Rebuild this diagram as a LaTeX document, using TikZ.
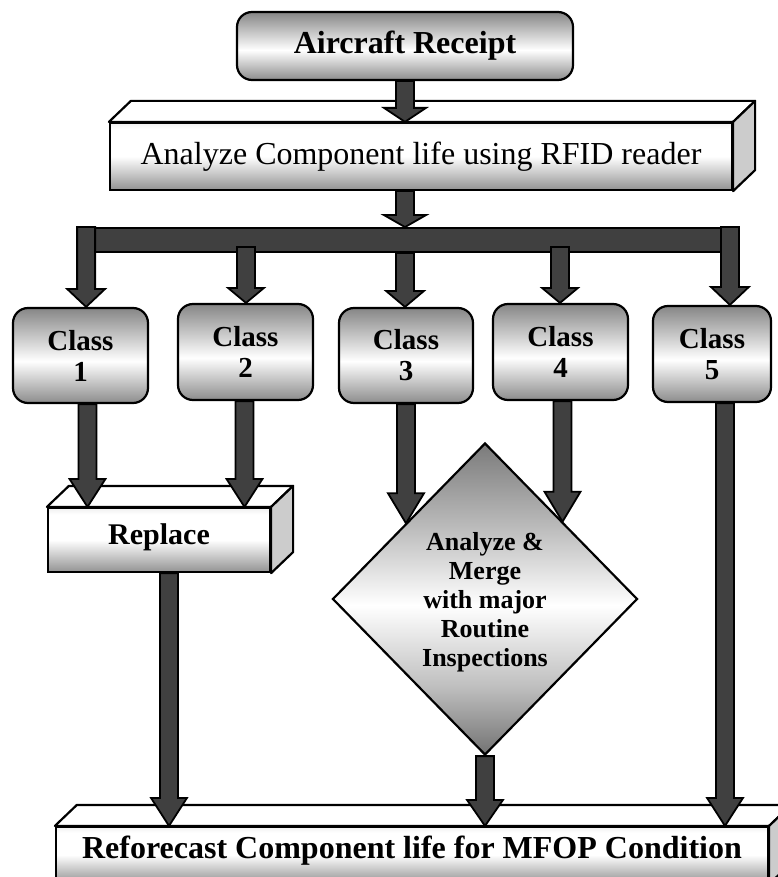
\documentclass[tikz,border=0pt]{standalone}
\usepackage{fontspec}
\setmainfont{Liberation Serif}
\usetikzlibrary{shapes.geometric,calc}

\pgfdeclareverticalshading{rsh}{100bp}{color(0bp)=(gray!90); color(25bp)=(gray!90); color(47bp)=(white); color(75bp)=(gray!95); color(100bp)=(gray!95)}
\pgfdeclareverticalshading{fsh}{100bp}{color(0bp)=(gray!85); color(25bp)=(gray!85); color(50bp)=(white); color(70bp)=(white); color(75bp)=(gray!12); color(100bp)=(gray!12)}
\pgfdeclareverticalshading{dsh}{100bp}{color(0bp)=(black!55); color(25bp)=(black!55); color(36bp)=(gray!50); color(49bp)=(white); color(62bp)=(gray!55); color(75bp)=(black!52); color(100bp)=(black!52)}

\tikzset{
  rbox/.style={draw=black, line width=2.2pt, rounded corners=15pt, shading=rsh, inner sep=0pt, align=center},
  fbox/.style={draw=black, line width=2.2pt, shading=fsh, inner sep=0pt, align=center},
  dbox/.style={draw=black, line width=2.2pt, shape=diamond, shading=dsh, inner sep=0pt},
  topface/.style={draw=black, line width=2.2pt, fill=white, line join=round},
  sideface/.style={draw=black, line width=2.2pt, fill=gray!40, line join=round},
  arrowbody/.style={draw=black, line width=1.8pt, fill=black!75, line join=miter},
  barbox/.style={draw=black, line width=1.8pt, fill=black!75, inner sep=0pt},
  bigbold/.style={font=\fontsize{32}{36}\selectfont\bfseries},
  bigreg/.style={font=\fontsize{32}{36}\selectfont},
  classfont/.style={font=\fontsize{29}{31}\selectfont\bfseries},
  repfont/.style={font=\fontsize{30}{34}\selectfont\bfseries},
  diafont/.style={font=\fontsize{26}{29}\selectfont\bfseries, align=center, inner sep=0pt}
}

% vertical block arrow: start, end (only its y is used), head length, head half width
\newcommand{\barw}[4]{%
  \filldraw[arrowbody] let \p1=#1, \p2=#2 in
    (\x1-9pt,\y1) -- (\x1-9pt,\y2+#3) -- (\x1-#4,\y2+#3) -- (\x1,\y2)
    -- (\x1+#4,\y2+#3) -- (\x1+9pt,\y2+#3) -- (\x1+9pt,\y1) -- cycle;}

% top and right faces of a cuboid whose front face is node #1
\newcommand{\cubfaces}[1]{%
  \filldraw[topface] (#1.north west) -- ++(22,-21) -- ([shift={(22,-21)}]#1.north east) -- (#1.north east) -- cycle;
  \filldraw[sideface] (#1.north east) -- ++(22,-21) -- ([shift={(22,-21)}]#1.south east) -- (#1.south east) -- cycle;}

\begin{document}
\begin{tikzpicture}[x=1pt,y=-1pt]
\useasboundingbox (0,0) rectangle (778,877);

% top box
\node[rbox, bigbold, minimum width=336pt, minimum height=68pt] (ar) at (405,46) {Aircraft Receipt};

% analyze cuboid
\node[fbox, bigreg, minimum width=622pt, minimum height=67pt] (an) at (421,156.5) {Analyze Component life using RFID reader};
\cubfaces{an}

% distribution bar
\node[barbox, minimum width=660pt, minimum height=24pt] (bar) at (408,240) {};

% class boxes
\node[rbox, classfont, minimum width=135pt, minimum height=95pt] (c1) at (80.5,355.5) {Class\\1};
\node[rbox, classfont, minimum width=135pt, minimum height=96pt] (c2) at (245.5,352) {Class\\2};
\node[rbox, classfont, minimum width=134pt, minimum height=95pt] (c3) at (406,355.5) {Class\\3};
\node[rbox, classfont, minimum width=135pt, minimum height=96pt] (c4) at (560.5,352) {Class\\4};
\node[rbox, classfont, minimum width=118pt, minimum height=96pt] (c5) at (712,354) {Class\\5};

% replace cuboid
\node[fbox, repfont, minimum width=222pt, minimum height=64pt, text height=21pt, text depth=12pt] (rep) at (159,540) {Replace};
\cubfaces{rep}

% diamond
\node[dbox, minimum width=305pt, minimum height=312pt] (dia) at (485,599) {};
\node[diafont] (diatext) at (485,602) {Analyze \&\\Merge\\with major\\Routine\\Inspections};

% reforecast cuboid
\node[fbox, bigbold, minimum width=712pt, minimum height=56pt, text height=22pt, text depth=16pt] (ref) at (412,855) {Reforecast Component life for MFOP Condition};
\cubfaces{ref}

% free-end coordinates on the bar
\coordinate (s2) at (246,247);
\coordinate (s4) at (560,247);

% arrows
\barw{(ar.south)}{(an.north)}{14pt}{21pt}
\barw{(ar.south |- an.south)}{(bar.north)}{12pt}{21pt}
\barw{([xshift=9pt]bar.north west)}{(c1.north)}{18pt}{19pt}
\barw{(s2)}{(c2.north)}{15pt}{18pt}
\barw{(ar.south |- bar.south)}{(c3.north)}{16pt}{19pt}
\barw{(s4)}{(c4.north)}{15pt}{18pt}
\barw{([xshift=-9pt]bar.north east)}{(c5.north)}{18pt}{19pt}

\barw{([xshift=7pt]c1.south)}{(rep.north)}{28pt}{18pt}
\barw{([xshift=-1pt]c2.south)}{(rep.north)}{28pt}{18pt}
\barw{(c3.south)}{($(dia.north)!0.518!(dia.west)$)}{30pt}{18pt}
\barw{([xshift=2pt]c4.south)}{($(dia.north)!0.508!(dia.east)$)}{30pt}{18pt}

\barw{([xshift=10pt]rep.south)}{(ref.north)}{28pt}{18pt}
\barw{(dia.south)}{(ref.north)}{26pt}{18pt}
\barw{([xshift=13pt]c5.south)}{(ref.north)}{28pt}{18pt}
\end{tikzpicture}
\end{document}
